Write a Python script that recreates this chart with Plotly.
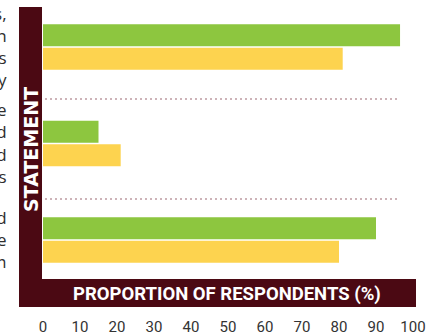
import plotly.graph_objects as go

# Data
categories = ["s,<br>n<br>ns<br>y", "e<br>d<br>d<br>es", "d<br>e<br>m"]
series_green = [96.5, 15, 90]
series_yellow = [81, 21, 80]
x_ticks = [0, 10, 20, 30, 40, 50, 60, 70, 80, 90, 100]

GREEN = "#8DC63F"
YELLOW = "#FDD34F"
MAROON = "#4B0913"
DOT = "#CDB3B8"

W, H = 434, 335
ML, MR, MT, MB = 43, 21, 0, 56
PW, PH = W - ML - MR, H - MT - MB


def px(x):
    return (x - ML) / PW


def py(y):
    return (MT + PH - y) / PH


fig = go.Figure()
fig.add_trace(go.Bar(y=categories, x=series_green, orientation="h",
                     marker=dict(color=GREEN, line=dict(width=0)), name="Series 1"))
fig.add_trace(go.Bar(y=categories, x=series_yellow, orientation="h",
                     marker=dict(color=YELLOW, line=dict(width=0)), name="Series 2"))

shapes = [
    # L-shaped maroon frame
    dict(type="rect", xref="paper", yref="paper", x0=px(19), x1=px(42), y0=py(307), y1=py(7),
         fillcolor=MAROON, line=dict(width=0), layer="above"),
    dict(type="rect", xref="paper", yref="paper", x0=px(19), x1=px(416), y0=py(307), y1=py(279),
         fillcolor=MAROON, line=dict(width=0), layer="above"),
    # dotted separators
    dict(type="line", xref="paper", yref="paper", x0=px(45), x1=px(400), y0=py(99), y1=py(99),
         line=dict(color=DOT, width=2, dash="2px,3px")),
    dict(type="line", xref="paper", yref="paper", x0=px(45), x1=px(400), y0=py(199), y1=py(199),
         line=dict(color=DOT, width=2, dash="2px,3px")),
]

annotations = [
    dict(text="<b>STATEMENT</b>", xref="paper", yref="paper", x=px(31), y=py(150),
         textangle=-90, showarrow=False, xanchor="center", yanchor="middle",
         font=dict(family="DejaVu Sans", size=19, color="white")),
    dict(text="<b>PROPORTION OF RESPONDENTS (%)</b>", xref="paper", yref="paper",
         x=px(226.5), y=py(294), showarrow=False, xanchor="center", yanchor="middle",
         font=dict(family="Roboto", size=18.5, color="white", weight=900)),
]

fig.update_layout(
    width=W, height=H,
    margin=dict(l=ML, r=MR, t=MT, b=MB, pad=0),
    paper_bgcolor="white", plot_bgcolor="white",
    barmode="group", bargap=0.516, bargroupgap=0.06,
    showlegend=False,
    shapes=shapes, annotations=annotations,
    xaxis=dict(range=[0, 100], tickvals=x_ticks, showgrid=False, zeroline=False,
               showline=False, ticks="outside", ticklen=34, tickcolor="rgba(0,0,0,0)",
               tickfont=dict(family="Roboto", size=15, color="#333333"), automargin=False,
               fixedrange=True),
    yaxis=dict(type="category", range=[2.404, -0.487], showgrid=False, zeroline=False,
               showline=False, ticks="outside", ticklen=32, tickcolor="rgba(0,0,0,0)",
               tickfont=dict(family="Open Sans", size=17, color="#2e2e2e"), automargin=False,
               fixedrange=True),
)

fig.write_html("out.html", config={"displayModeBar": False},
               post_script="document.body.style.margin='0';")
